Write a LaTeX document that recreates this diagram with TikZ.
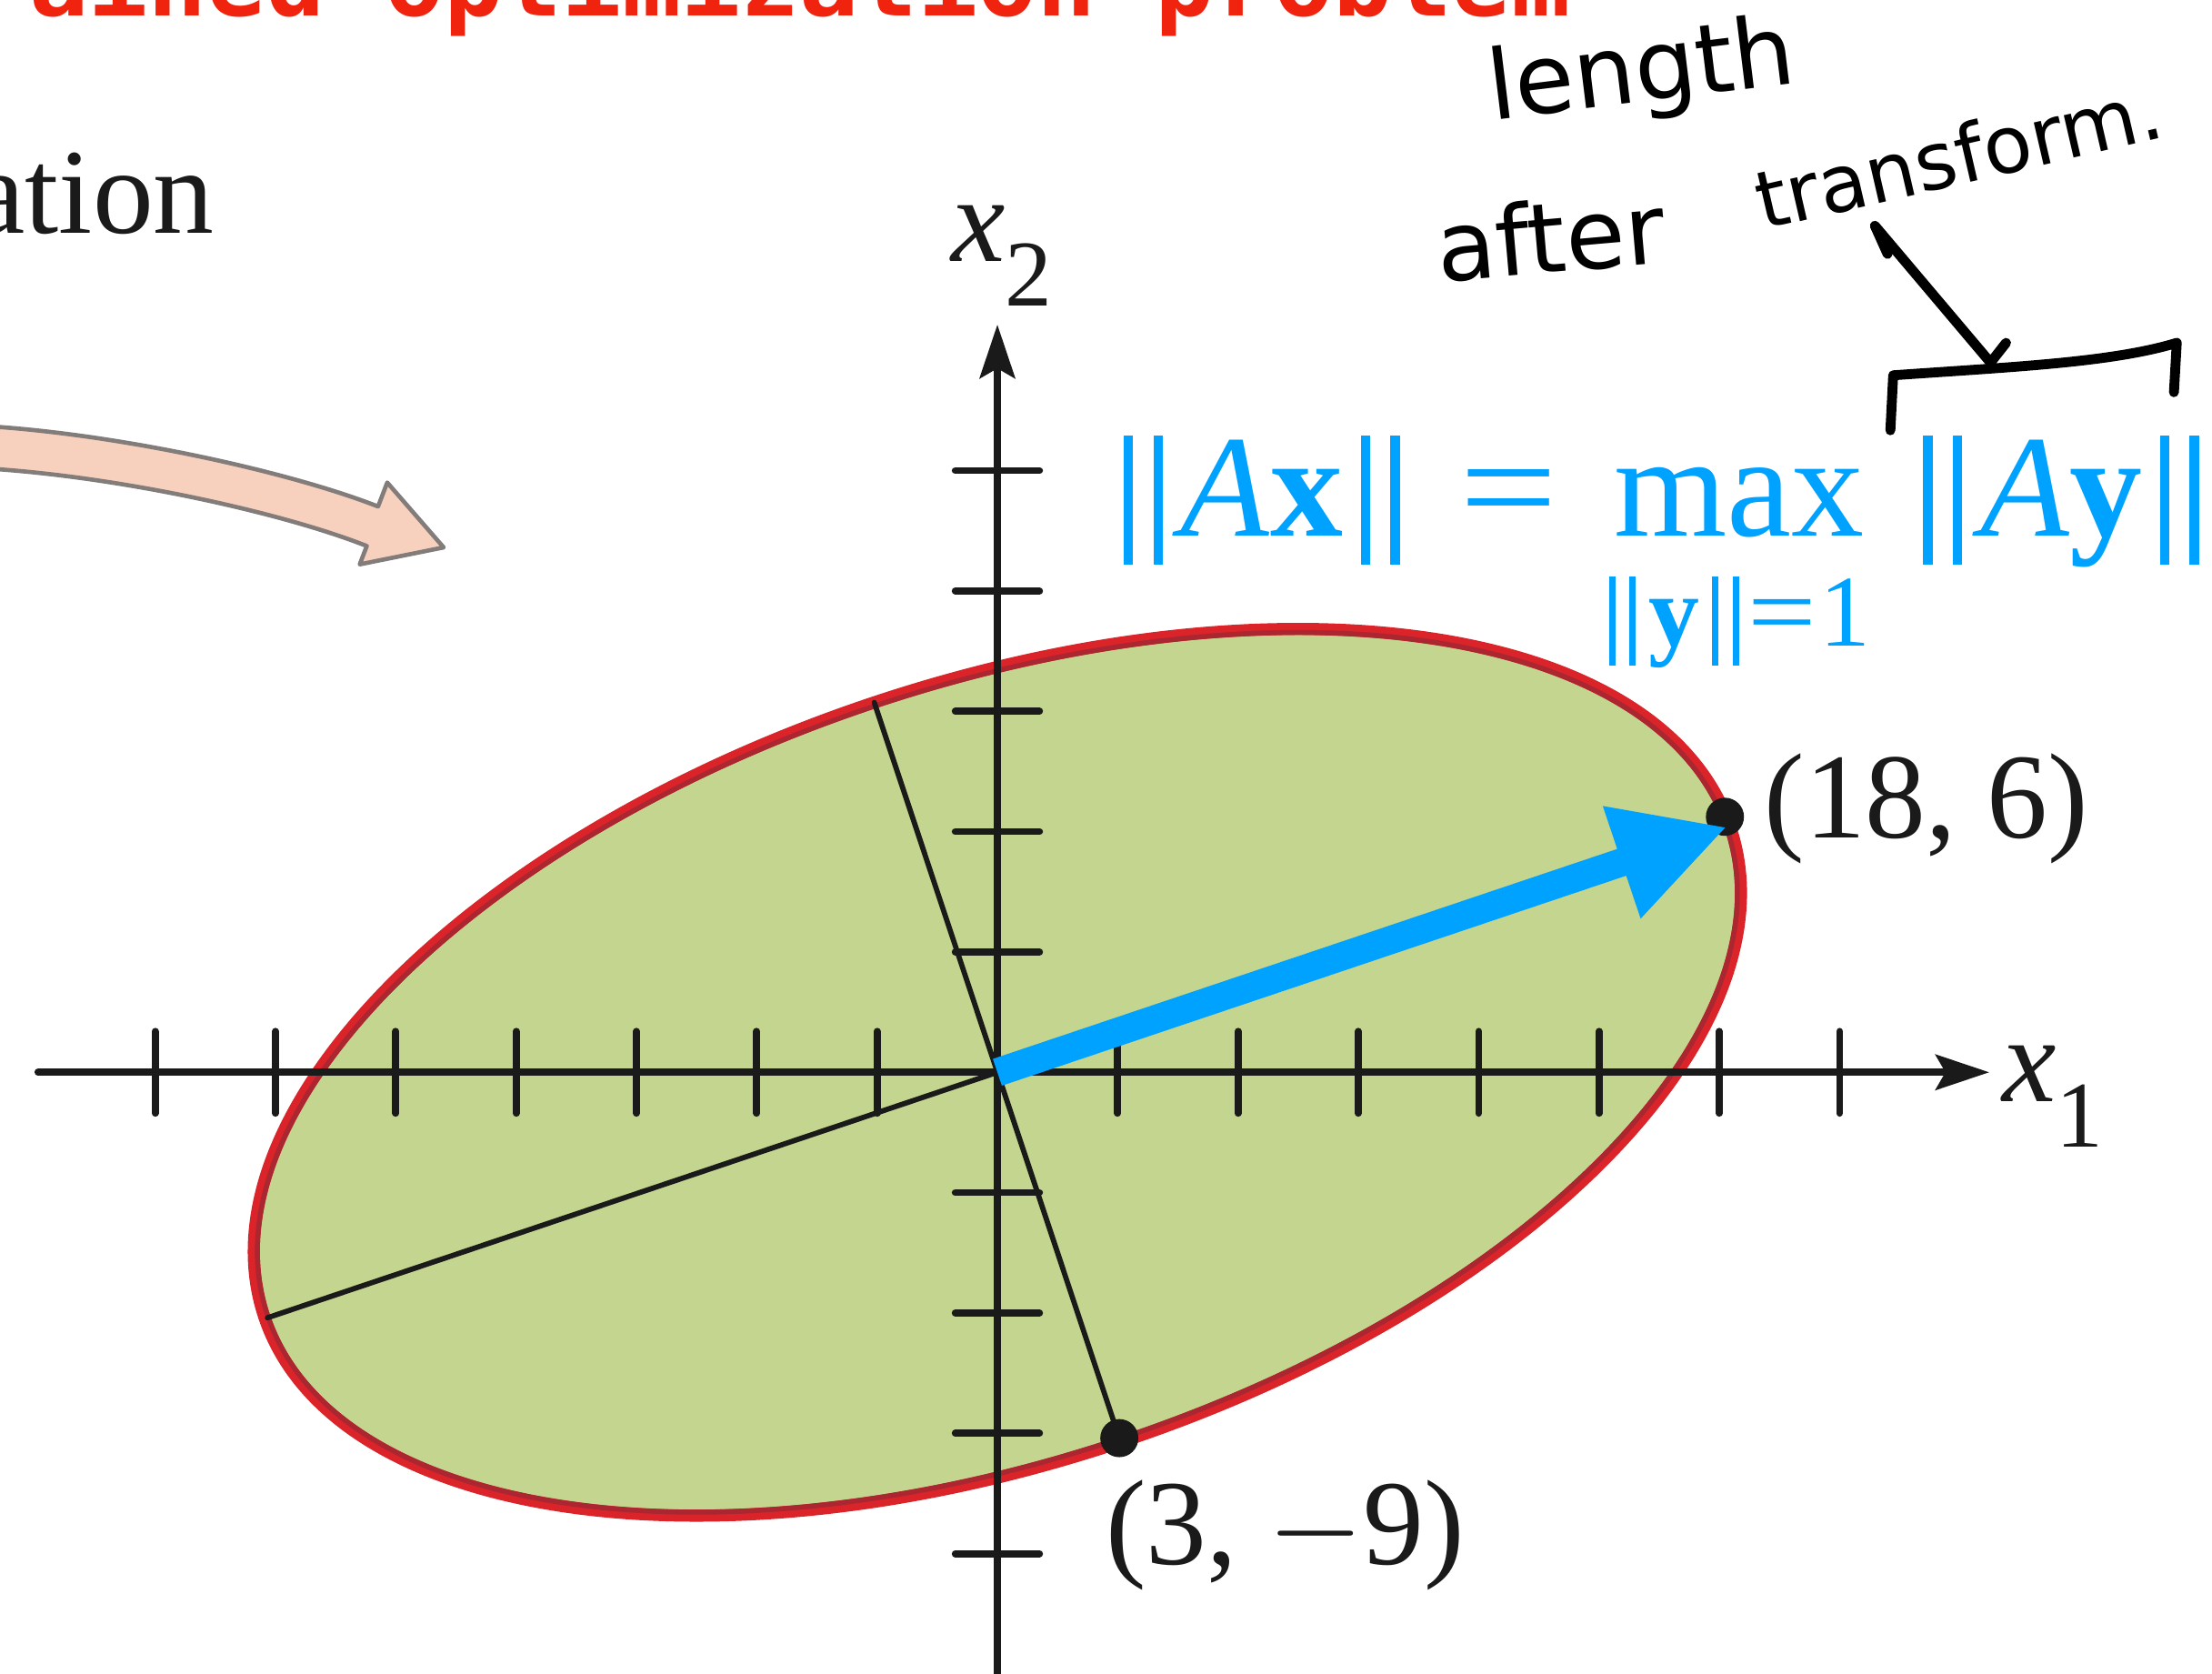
\documentclass[tikz,border=0pt]{standalone}
\usepackage{fontspec}
\setmainfont{Liberation Serif}
\newfontfamily\slidemono{DejaVu Sans Mono}
\newfontfamily\handsans{DejaVu Sans}
\usepackage{graphicx}
\usetikzlibrary{arrows.meta,calc}
\definecolor{ellipsegreen}{RGB}{195,213,142}
\definecolor{ellipsered}{RGB}{218,36,42}
\definecolor{ellipsedark}{RGB}{170,38,48}
\definecolor{normblue}{RGB}{0,162,255}
\definecolor{inkblack}{RGB}{26,26,26}
\definecolor{sliderred}{RGB}{240,35,15}
\definecolor{peach}{RGB}{247,209,189}
\definecolor{peachedge}{RGB}{130,124,122}
\newcommand\dbar{\rule[-0.194em]{0.064em}{0.884em}\kern0.139em\rule[-0.194em]{0.064em}{0.884em}}
\newcommand\nrm[1]{\dbar\kern0.125em#1\kern0.125em\dbar}
\newcommand\subidx[1]{\raisebox{-0.32cm}{\fontsize{19}{20}\selectfont #1}}

\begin{document}
\begin{tikzpicture}[>=Stealth,line cap=round,line join=round,
  axisline/.style={inkblack,line width=0.05cm,-{Stealth[length=0.38cm,width=0.25cm,inset=0.07cm]}},
  axtick/.style={inkblack,line width=0.05cm},
  norm/.style={normblue,inner sep=0pt,font=\fontsize{29.3}{32}\selectfont},
  coordlabel/.style={inkblack,inner sep=0pt,font=\fontsize{24.5}{28}\selectfont},
  hand/.style={black,line width=0.07cm},
  handtext/.style={black,inner sep=0pt,font=\handsans\fontsize{19.5}{22}\selectfont}]
 \useasboundingbox (-7.07,-4.26) rectangle (8.61,7.60);
 \node[sliderred,inner sep=0pt,anchor=base west,font=\slidemono\bfseries\fontsize{19.86}{22}\selectfont]
  (slidetitle) at (-7.29,7.49) {rained optimization problem};
 \node[inkblack,inner sep=0pt,anchor=base west,font=\fontsize{24.5}{28}\selectfont]
  (cuttitle) at (-7.28,5.95) {ation};
 \filldraw[fill=peach,draw=peachedge,line width=0.03cm]
  (-7.17,4.58) .. controls (-6.2,4.52) and (-5.0,4.25) .. (-4.39,4.01)
  -- (-4.325,4.18) -- (-3.925,3.72) -- (-4.52,3.60) -- (-4.47,3.73)
  .. controls (-5.05,3.96) and (-6.2,4.22) .. (-7.17,4.28) -- cycle;
 \begin{scope}[x=0.2843cm,y=0.2843cm]
  \coordinate (o) at (0,0);
  \coordinate (p1) at (18.14,6.37);
  \coordinate (p2) at (3.04,-9.12);
  \coordinate (tipA) at (18.2,6.12);
  \coordinate (q1) at (-18.2,-6.12);
  \coordinate (q2) at (-3.07,9.22);
  \coordinate (xl) at (-23.92,0); \coordinate (xr) at (24.73,0);
  \coordinate (yb) at (0,-15.5); \coordinate (yt) at (0,18.64);
  \begin{scope}[rotate=18.43]
   \filldraw[fill=ellipsegreen,draw=ellipsered,line width=0.086cm]
    (o) ellipse [x radius=19.27,y radius=9.72];
   \draw[ellipsedark,line width=0.035cm] (o) ellipse [x radius=19.18,y radius=9.63];
  \end{scope}
  \foreach \k in {-7,-6,-5,-4,-3,-2,-1,1,2,3,4,5,6,7}
   \draw[axtick] (3*\k,-1.02) -- (3*\k,1.02);
  \foreach \k in {-4,-3,-2,-1,1,2,3,4,5}
   \draw[axtick] (-1.05,3*\k) -- (1.05,3*\k);
  \draw[axisline] (xl) -- (xr);
  \draw[axisline] (yb) -- (yt);
  \draw[inkblack,line width=0.037cm] (o) -- (q1);
  \draw[inkblack,line width=0.037cm] (q2) -- (p2);
  \fill[inkblack] (p1) circle (0.135cm);
  \fill[inkblack] (p2) circle (0.135cm);
  \draw[normblue,line width=0.2cm,line cap=butt,-{Triangle[length=0.79cm,width=0.78cm]}]
   (o) -- (tipA);
 \end{scope}
 \node[coordlabel,anchor=base west] (labtop) at (5.43,1.66) {(18, 6)};
 \node[coordlabel,anchor=base west] (labbot) at (0.76,-3.49) {(3, $-$9)};
 \node[coordlabel,anchor=base west] (xonelab) at (7.115,-0.21) {\textit{x}\subidx{1}};
 \node[coordlabel,anchor=base west] (xtwolab) at (-0.335,5.75) {\textit{x}\subidx{2}};
 \node[norm,anchor=base west] (lhs) at (0.89,3.80) {\nrm{\textit{A}\textbf{x}}};
 \node[norm,anchor=base west] (eqsign) at (3.27,3.80) {\scalebox{1.2}[1]{=}};
 \node[norm,anchor=base west] (maxop) at (4.364,3.80) {max};
 \node[norm,anchor=base west] (rhs) at (6.556,3.80) {\nrm{\textit{A}\textbf{y}}};
 \node[norm,anchor=base,font=\fontsize{20.5}{22}\selectfont] (constraint) at (5.26,3.02)
  {\nrm{\textbf{y}}\kern0.08em\scalebox{1.2}[1]{=}\kern0.03em1};
 \node[handtext,anchor=base,rotate=7] (hwlength) at (4.59,6.88) {length};
 \node[handtext,anchor=base,rotate=5] (hwafter) at (3.94,5.67) {after};
 \node[handtext,anchor=base,rotate=13,font=\handsans\fontsize{16}{18}\selectfont]
  (hwtransform) at (6.86,6.30) {transform.};
 \coordinate (hwstart) at (6.31,5.80);
 \coordinate (hwtail) at (6.22,6.00);
 \coordinate (hwtip) at (7.04,5.03);
 \coordinate (hwbarb) at (7.15,5.17);
 \draw[hand] (hwstart) -- (hwtail) -- (hwtip) -- (hwbarb);
 \coordinate (brfoot) at (6.33,4.55);
 \coordinate (brleft) at (6.35,4.94);
 \coordinate (brright) at (8.36,5.17);
 \coordinate (brend) at (8.34,4.82);
 \draw[hand] (brfoot) -- (brleft) .. controls (7.2,5.0) and (7.9,5.03) .. (brright) -- (brend);
\end{tikzpicture}
\end{document}
